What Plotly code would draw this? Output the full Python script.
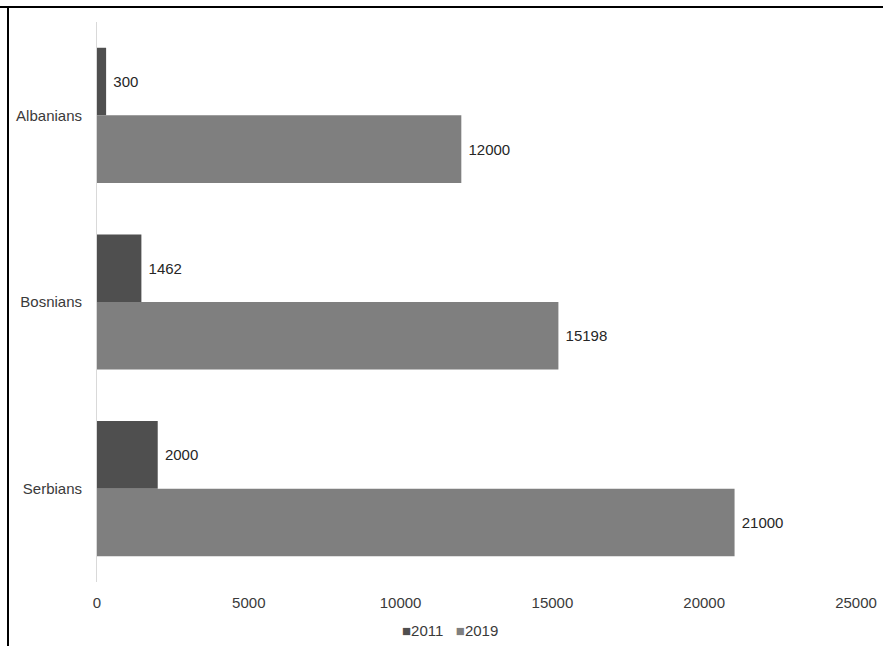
import plotly.graph_objects as go

categories = ["Albanians", "Bosnians", "Serbians"]
values_2011 = [300, 1462, 2000]
values_2019 = [12000, 15198, 21000]
x_ticks = [0, 5000, 10000, 15000, 20000, 25000]
series_names = ["2011", "2019"]
series_colors = ["#4f4f4f", "#7f7f7f"]

FONT = "Liberation Sans, Arial, sans-serif"
TXT = "#3a3a3a"

fig = go.Figure()
for name, vals, col in zip(series_names, [values_2011, values_2019], series_colors):
    fig.add_trace(go.Bar(
        name=name, y=categories, x=vals, orientation="h",
        marker=dict(color=col, line=dict(width=0)),
        text=[str(v) for v in vals],
        texttemplate="\u00a0%{text}", textposition="outside",
        textfont=dict(family=FONT, size=15, color="#262626"),
        cliponaxis=False, showlegend=False,
    ))

legend_text = "\u00a0\u00a0\u00a0".join(
    f'<span style="color:{c}">\u25a0</span>{n}' for n, c in zip(series_names, series_colors)
)

fig.update_layout(
    width=883, height=646,
    margin=dict(l=97, r=27, t=22, b=64, autoexpand=False),
    paper_bgcolor="white", plot_bgcolor="white",
    barmode="group", bargap=0.276, bargroupgap=0,
    font=dict(family=FONT, size=15, color=TXT),
    showlegend=False,
    xaxis=dict(range=[0, 25000], tickvals=x_ticks, ticktext=[str(t) for t in x_ticks],
               showgrid=False, zeroline=False, showline=False, ticks="",
               tickfont=dict(family=FONT, size=15, color=TXT), ticklabelstandoff=10,
               automargin=False),
    yaxis=dict(autorange="reversed", showgrid=False, zeroline=False,
               showline=True, linecolor="#d9d9d9", linewidth=1, ticks="",
               tickfont=dict(family=FONT, size=15, color=TXT), ticklabelstandoff=11,
               automargin=False),
    annotations=[dict(text=legend_text, xref="paper", yref="paper",
                      x=(450 - 97) / 759, y=-48/560, xanchor="center", yanchor="middle",
                      showarrow=False, font=dict(family=FONT, size=15, color=TXT))],
    shapes=[
        dict(type="line", xref="paper", yref="paper", x0=-97/759, x1=1 + 27/759,
             y0=1 + 15/560, y1=1 + 15/560, line=dict(color="black", width=2)),
        dict(type="line", xref="paper", yref="paper", x0=-89/759, x1=-89/759,
             y0=1 + 15/560, y1=-64/560, line=dict(color="black", width=2)),
    ],
)

fig.write_html("out.html")
